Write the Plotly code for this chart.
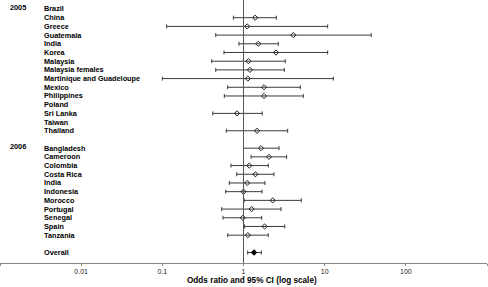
import plotly.graph_objects as go

# ---- data ----
groups_2005 = ["Brazil", "China", "Greece", "Guatemala", "India", "Korea", "Malaysia",
               "Malaysia females", "Martinique and Guadeloupe", "Mexico", "Philippines",
               "Poland", "Sri Lanka", "Taiwan", "Thailand"]
or_2005 = [None, 1.39, 1.11, 4.11, 1.52, 2.51, 1.15, 1.20, 1.13, 1.79, 1.79, None, 0.83, None, 1.47]
lo_2005 = [None, 0.75, 0.113, 0.455, 0.88, 0.575, 0.406, 0.455, 0.100, 0.639, 0.580, None, 0.418, None, 0.614]
hi_2005 = [None, 2.54, 10.9, 37.5, 2.68, 10.9, 3.27, 3.18, 12.8, 5.01, 5.45, None, 1.70, None, 3.50]

groups_2006 = ["Bangladesh", "Cameroon", "Colombia", "Costa Rica", "India", "Indonesia",
               "Morocco", "Portugal", "Senegal", "Spain", "Tanzania"]
or_2006 = [1.64, 2.06, 1.18, 1.40, 1.11, 1.00, 2.29, 1.26, 0.98, 1.82, 1.13]
lo_2006 = [1.00, 1.24, 0.70, 0.825, 0.668, 0.604, 1.02, 0.539, 0.559, 1.03, 0.639]
hi_2006 = [2.74, 3.40, 2.02, 2.37, 1.84, 1.69, 5.15, 2.90, 1.675, 3.22, 2.02]

overall_label = "Overall"
or_overall = 1.35
lo_overall = 1.126
hi_overall = 1.66

year_labels = ["2005", "2006"]
tick_vals = [0.001, 0.01, 0.1, 1, 10, 100, 1000]
tick_text = ["", "0.01", "0.1", "1", "10", "100", ""]
x_title = "Odds ratio and 95% CI (log scale)"

# ---- row layout ----
rows_2005 = list(range(0, len(groups_2005)))
start_2006 = len(groups_2005) + 1
rows_2006 = list(range(start_2006, start_2006 + len(groups_2006)))
row_overall = rows_2006[-1] + 2

def pts(rows, ors, los, his):
    ys, xs, ep, em = [], [], [], []
    for r, o, l, h in zip(rows, ors, los, his):
        if o is None:
            continue
        ys.append(r); xs.append(o); ep.append(h - o); em.append(o - l)
    return ys, xs, ep, em

y1, x1, ep1, em1 = pts(rows_2005 + rows_2006, or_2005 + or_2006,
                       lo_2005 + lo_2006, hi_2005 + hi_2006)

FONT = "Liberation Sans"
LINE = "#3a3a3a"

fig = go.Figure()
fig.add_trace(go.Scatter(
    x=x1, y=y1, mode="markers",
    marker=dict(symbol="diamond-open", size=4, color="#222", line=dict(width=1, color="#222")),
    error_x=dict(type="data", symmetric=False, array=ep1, arrayminus=em1,
                 color=LINE, thickness=1, width=2),
    showlegend=False, hoverinfo="skip"))
fig.add_trace(go.Scatter(
    x=[or_overall], y=[row_overall], mode="markers",
    marker=dict(symbol="diamond", size=5, color="#000"),
    error_x=dict(type="data", symmetric=False, array=[hi_overall - or_overall],
                 arrayminus=[or_overall - lo_overall], color=LINE, thickness=1, width=2),
    showlegend=False, hoverinfo="skip"))

W = 487.0
ann = []
for name, r in zip(groups_2005 + groups_2006 + [overall_label],
                   rows_2005 + rows_2006 + [row_overall]):
    ann.append(dict(x=43 / W, xref="paper", y=r, yref="y", text=name, showarrow=False,
                    xanchor="left", yanchor="middle", borderpad=0,
                    font=dict(family=FONT, size=7.3, color="#000", weight="bold")))
for name, r in zip(year_labels, [rows_2005[0] - 0.2, rows_2006[0] - 0.2]):
    ann.append(dict(x=9 / W, xref="paper", y=r, yref="y", text=name, showarrow=False,
                    xanchor="left", yanchor="middle", borderpad=0,
                    font=dict(family=FONT, size=7.3, color="#000", weight="bold")))
ann.append(dict(x=252.3 / W, xref="paper", y=-0.068, yref="paper", text=x_title,
                showarrow=False, xanchor="center", yanchor="middle",
                font=dict(family=FONT, size=8.2, color="#000", weight="bold")))

fig.update_layout(
    width=488, height=287,
    margin=dict(l=0, r=1, t=0, b=24),
    paper_bgcolor="white", plot_bgcolor="white",
    annotations=ann,
    shapes=[dict(type="line", xref="x", yref="paper", x0=1, x1=1, y0=0, y1=1,
                 line=dict(color="#555", width=1))],
)
fig.update_xaxes(type="log", range=[-3, 3], tickvals=tick_vals, ticktext=tick_text,
                 showgrid=False, zeroline=False, showline=True, linecolor="#888", linewidth=1,
                 ticks="outside", ticklen=2, tickcolor="#888",
                 tickfont=dict(family=FONT, size=7, color="#222"))
fig.update_yaxes(range=[29.2, -1.034], visible=False, showgrid=False, zeroline=False)

fig.write_html("out.html", config={"displayModeBar": False},
               post_script="document.body.style.margin='0';document.body.style.overflow='hidden';")
